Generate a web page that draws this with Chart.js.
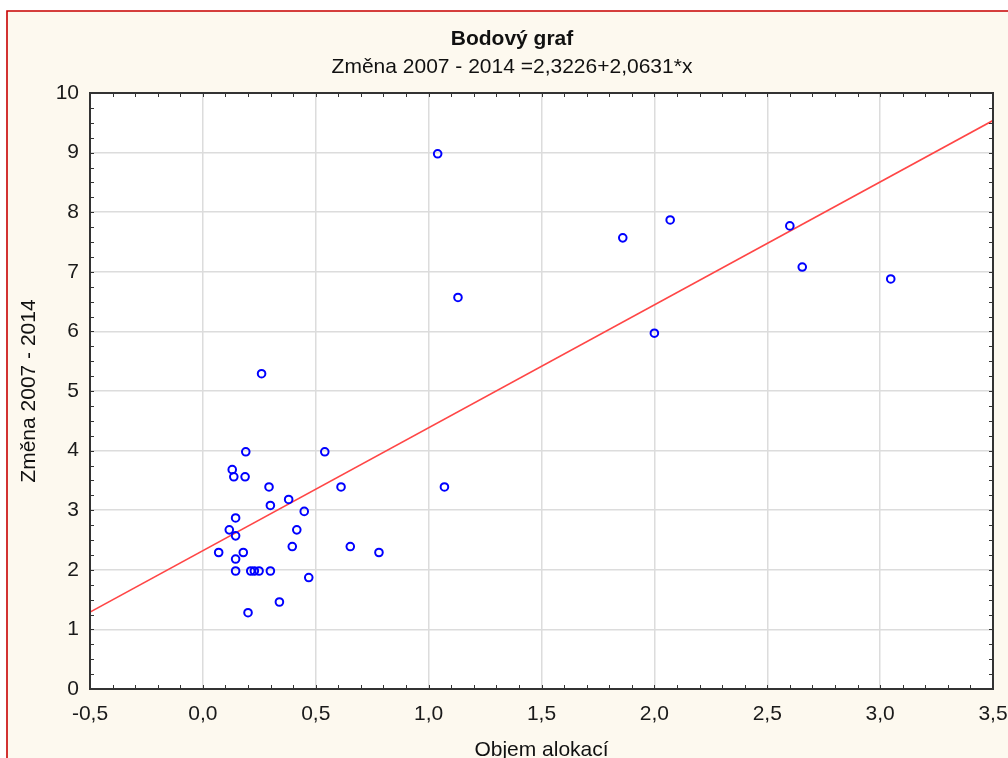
<!DOCTYPE html>
<html>
<head>
<meta charset="utf-8">
<script src="https://cdn.jsdelivr.net/npm/chart.js@4.4.1/dist/chart.umd.min.js"></script>
<style>
  html, body { margin: 0; padding: 0; background: #ffffff; }
  #wrap { width: 1008px; height: 758px; position: relative; }
</style>
</head>
<body>
<div id="wrap"><canvas id="c" width="1008" height="758"></canvas></div>
<script>
// ---- data ----
const titleText = "Bodový graf";
const subtitleText = "Změna 2007 - 2014 =2,3226+2,0631*x";
const xAxisTitle = "Objem alokací";
const yAxisTitle = "Změna 2007 - 2014";

const xValues = [
  1.04, 1.13, 1.07, 1.86, 2.07, 2.00, 2.60, 2.655, 3.047,
  0.26, 0.19, 0.54, 0.13, 0.137, 0.187, 0.293, 0.612, 0.38, 0.299,
  0.449, 0.145, 0.117, 0.416, 0.145, 0.396, 0.653, 0.07, 0.179, 0.78,
  0.145, 0.145, 0.212, 0.228, 0.249, 0.299, 0.469, 0.339, 0.20
];
const yValues = [
  8.98, 6.57, 3.39, 7.57, 7.87, 5.97, 7.77, 7.08, 6.88,
  5.29, 3.98, 3.98, 3.68, 3.56, 3.56, 3.39, 3.39, 3.18, 3.08,
  2.98, 2.87, 2.67, 2.67, 2.57, 2.39, 2.39, 2.29, 2.29, 2.29,
  2.18, 1.98, 1.98, 1.98, 1.98, 1.98, 1.87, 1.46, 1.28
];
// regression line end points
const lineX = [-0.5, 3.5];
const lineY = [1.29, 9.54];

const xMin = -0.5, xMax = 3.5, xStep = 0.5;
const yMin = 0, yMax = 10, yStep = 1;

const points = xValues.map((x, i) => ({ x: x, y: yValues[i] }));
const linePts = lineX.map((x, i) => ({ x: x, y: lineY[i] }));

const FONT = "'Liberation Sans', Arial, sans-serif";
const FS = 21;

const decorPlugin = {
  id: 'decor',
  beforeDraw(chart) {
    const ctx = chart.ctx;
    const a = chart.chartArea;
    ctx.save();
    ctx.fillStyle = '#ffffff';
    ctx.fillRect(0, 0, chart.width, chart.height);
    ctx.fillStyle = '#fdf9ef';
    ctx.fillRect(7, 11, chart.width - 7, chart.height - 11);
    ctx.strokeStyle = '#c80000';
    ctx.lineWidth = 1.6;
    ctx.beginPath();
    ctx.moveTo(7, chart.height);
    ctx.lineTo(7, 11);
    ctx.lineTo(chart.width, 11);
    ctx.stroke();
    ctx.fillStyle = '#ffffff';
    ctx.fillRect(a.left, a.top, a.right - a.left, a.bottom - a.top);
    // titles
    ctx.fillStyle = '#111111';
    ctx.textAlign = 'center';
    ctx.textBaseline = 'middle';
    ctx.font = "bold " + FS + "px " + FONT;
    ctx.fillText(titleText, 512, 39);
    ctx.font = FS + "px " + FONT;
    ctx.fillText(subtitleText, 512, 67);
    ctx.restore();
  },
  afterDatasetsDraw(chart) {
    const ctx = chart.ctx;
    const a = chart.chartArea;
    const xs = chart.scales.x, ys = chart.scales.y;
    ctx.save();
    ctx.strokeStyle = '#333333';
    ctx.lineWidth = 1;
    ctx.beginPath();
    for (let i = 0; i <= 40; i++) {
      const px = Math.round(xs.getPixelForValue(xMin + i * 0.1)) + 0.5;
      ctx.moveTo(px, a.bottom); ctx.lineTo(px, a.bottom - 4);
      ctx.moveTo(px, a.top); ctx.lineTo(px, a.top + 4);
    }
    for (let i = 0; i <= 40; i++) {
      const py = Math.round(ys.getPixelForValue(yMin + i * 0.25)) + 0.5;
      ctx.moveTo(a.left, py); ctx.lineTo(a.left + 4, py);
      ctx.moveTo(a.right, py); ctx.lineTo(a.right - 4, py);
    }
    ctx.stroke();
    ctx.strokeStyle = '#333333';
    ctx.lineWidth = 2;
    ctx.strokeRect(a.left, a.top, a.right - a.left, a.bottom - a.top);
    ctx.restore();
  }
};

new Chart(document.getElementById('c'), {
  type: 'scatter',
  data: {
    datasets: [
      {
        type: 'line',
        data: linePts,
        borderColor: 'rgb(255,70,70)',
        borderWidth: 1.7,
        pointRadius: 0,
        fill: false,
        order: 2
      },
      {
        data: points,
        borderColor: '#0000ff',
        backgroundColor: 'rgba(0,0,0,0)',
        pointRadius: 3.8,
        pointBorderWidth: 2,
        order: 1
      }
    ]
  },
  options: {
    responsive: false,
    animation: false,
    events: [],
    layout: { padding: { top: 93, left: 0, right: 15, bottom: 0 } },
    plugins: { legend: { display: false }, tooltip: { enabled: false }, title: { display: false } },
    scales: {
      x: {
        type: 'linear',
        min: xMin, max: xMax,
        afterFit(s) { s.height = 69; s.paddingLeft = 0; s.paddingRight = 0; },
        grid: { color: '#dcdcdc', lineWidth: 1.5, drawTicks: false },
        border: { display: false },
        ticks: {
          stepSize: xStep,
          padding: 13,
          color: '#1a1a1a',
          font: { family: FONT, size: FS },
          maxRotation: 0,
          callback: (v) => v.toFixed(1).replace('.', ',')
        },
        title: {
          display: true, text: xAxisTitle, color: '#111111',
          font: { family: FONT, size: FS, lineHeight: 1 },
          padding: { top: 0, bottom: -3 }
        }
      },
      y: {
        type: 'linear',
        min: yMin, max: yMax,
        afterFit(s) { s.width = 90; s.paddingTop = 0; s.paddingBottom = 0; },
        grid: { color: '#dcdcdc', lineWidth: 1.5, drawTicks: false },
        border: { display: false },
        ticks: {
          stepSize: yStep,
          padding: 11,
          color: '#1a1a1a',
          font: { family: FONT, size: FS },
          callback: (v) => String(v)
        },
        title: {
          display: true, text: yAxisTitle, color: '#111111',
          font: { family: FONT, size: FS, lineHeight: 1.2 },
          padding: { top: 17, bottom: 0 }
        }
      }
    }
  },
  plugins: [decorPlugin]
});
</script>
</body>
</html>
